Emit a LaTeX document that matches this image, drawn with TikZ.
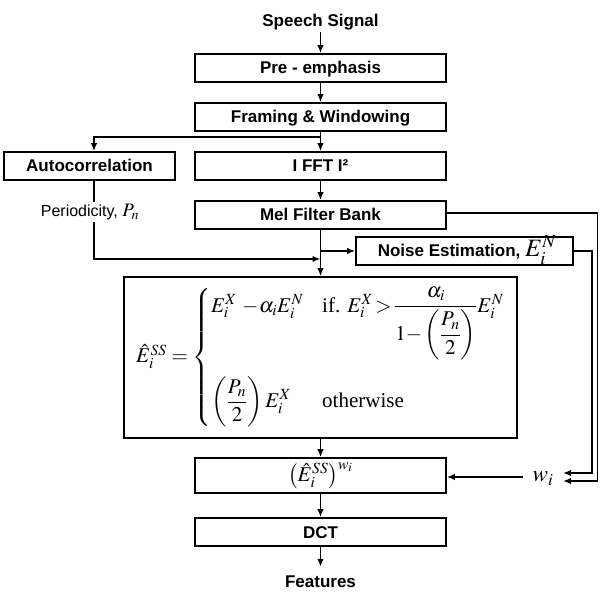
\documentclass[tikz,border=0pt]{standalone}
\usepackage{amsmath}
\usepackage{mathptmx}
\usepackage[no-math]{fontspec}
\setmainfont{Liberation Serif}
\setsansfont{Liberation Sans}
\usetikzlibrary{arrows.meta}

\tikzset{
  flow/.style={line width=1.6pt, -{Latex[length=8pt,width=6.5pt]}},
  wire/.style={line width=1.6pt},
  procbox/.style={draw, line width=1.6pt, minimum width=251pt, minimum height=28pt, inner sep=0pt},
  lbl/.style={font=\fontsize{17}{20}\selectfont\sffamily\bfseries, text height=12pt, text depth=0pt},
}

\begin{document}
\begin{tikzpicture}[x=1pt, y=-1pt]
\useasboundingbox (0,0) rectangle (600,593);

% main processing chain
\node[lbl, inner ysep=5pt] (sig) at (320.5,21) {Speech Signal};
\node[procbox, lbl] (pre) at (320.5,68) {Pre - emphasis};
\node[procbox, lbl] (frm) at (320.5,117) {Framing \& Windowing};
\node[procbox, lbl, minimum width=171pt] (acr) at (89.5,166) {Autocorrelation};
\node[procbox, lbl] (fft) at (320.5,166) {I FFT I²};
\node[procbox, lbl] (mel) at (320.5,215) {Mel Filter Bank};
\node[procbox, lbl, minimum width=217pt] (nse) at (464.5,251)
  {\hspace{5pt}Noise Estimation, {\fontsize{25}{25}\selectfont$E_i^N$}};
\node[font=\fontsize{16}{18}\selectfont\sffamily, inner sep=1.5pt] (per) at (90,212)
  {Periodicity, {\fontsize{19}{19}\selectfont$P_n$}};

% spectral subtraction rule
\node[draw, line width=1.6pt, minimum width=393pt, minimum height=161pt, inner sep=0pt] (form) at (320.5,357.5)
  {\fontsize{21}{25}\selectfont
   $\hat{E}_i^{SS} = \left\{ \begin{array}{@{}l@{\hspace{0.9em}}l@{}}
     E_i^X \mathbin{\,-\!} \alpha_i E_i^N & \text{if. } E_i^X \mathrel{\!>\!} \dfrac{\alpha_i}{1{-}\left(\dfrac{P_n}{2}\right)}E_i^N \\
     \noalign{\vskip 17pt}
     \left(\dfrac{P_n}{2}\right)E_i^X & \text{otherwise}
   \end{array}\right.$};

\node[procbox, minimum height=35pt] (pw) at (320.5,475.5)
  {\fontsize{21}{21}\selectfont$\left(\hat{E}_i^{SS}\right)^{w_i}$};
\node[procbox, lbl] (dct) at (320.5,532) {DCT};
\node[lbl, inner ysep=8pt] (ftr) at (320.5,581) {Features};
\node[inner xsep=10pt, inner ysep=0pt, text height=10pt, text depth=0pt, font=\fontsize{23}{23}\selectfont] (wi) at (543,477) {$w_i$};

% helper points
\coordinate (br) at (320.5,137);
\coordinate (lft) at (94,0);
\coordinate (mj) at (320.5,259);
\coordinate (c1) at (597.5,0);
\coordinate (c2) at (592,0);
\coordinate (wa) at (563,473);
\coordinate (wb) at (563,481);

% connectors
\draw[flow] (sig) -- (pre);
\draw[flow] (pre) -- (frm);
\draw[flow] (frm) -- (fft);
\draw[flow] (br) -| (acr.north -| lft);
\draw[flow] (fft) -- (mel);
\draw[wire] (acr.south -| lft) -- (per.north -| lft);
\draw[flow] (per.south -| lft) |- (mj);
\draw[flow] (mel) -- (form);
\draw[flow] (mel.south |- nse.west) -- (nse.west);
\draw[flow] (nse.east) -- (nse.east -| c2) -- (c2 |- wa) -- (wa);
\draw[flow] ([yshift=2pt]mel.east) -- ([yshift=2pt]mel.east -| c1) -- (c1 |- wb) -- (wb);
\draw[flow] (wi.west) -- (pw.east |- wi.west);
\draw[flow] (form) -- (pw);
\draw[flow] (pw) -- (dct);
\draw[flow] (dct) -- (ftr);
\end{tikzpicture}
\end{document}
